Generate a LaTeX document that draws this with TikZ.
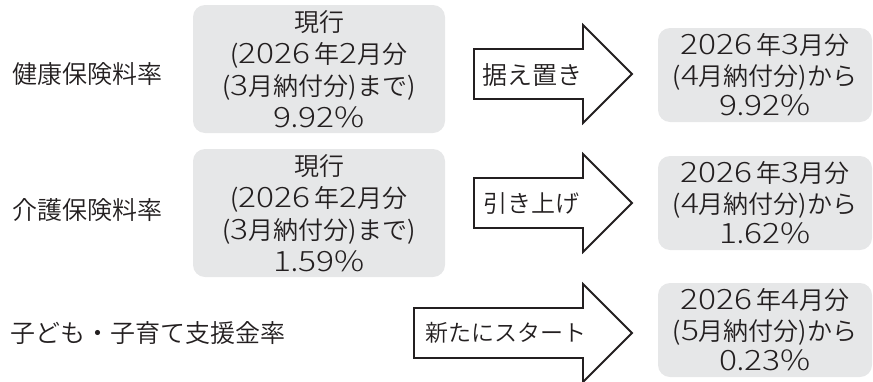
\documentclass[tikz,border=0pt]{standalone}
\usepackage{fontspec}
\setmainfont{Noto Sans CJK JP}[UprightFont=* DemiLight]
\newfontfamily\dgfont{Noto Sans CJK JP}[UprightFont=* Light, FakeStretch=1.2]
\newcommand\dgt[1]{{\dgfont\fontsize{28}{28}\selectfont #1}}
\definecolor{boxgray}{HTML}{E6E7E8}
\definecolor{ink}{HTML}{231F20}
\begin{document}
\begin{tikzpicture}[x=1pt,y=-1pt,
  every node/.style={text=ink},
  graybox/.style={fill=boxgray, rounded corners=12pt, align=center, inner sep=0pt,
    font=\fontsize{25}{32}\selectfont},
  leftbox/.style={graybox, minimum width=252pt, minimum height=128pt},
  rightbox/.style={graybox, minimum width=214pt, minimum height=94pt,
    font=\fontsize{25}{30.5}\selectfont},
  rowlabel/.style={anchor=west, inner sep=0pt, font=\fontsize{25}{25}\selectfont},
  arrowlabel/.style={anchor=west, inner sep=0pt, font=\fontsize{23}{23}\selectfont},
  bigarrow/.style={draw=ink, line width=1.8pt, fill=white, line join=miter}]
\useasboundingbox (0,0) rectangle (873,381);

% row labels
\node[rowlabel] (l1) at (12,74) {健康保険料率};
\node[rowlabel] (l2) at (12,210) {介護保険料率};
\node[rowlabel] (l3) at (10,333) {子ども・子育て支援金率};

% current-rate boxes
\node[leftbox] (c1) at (319,69) {現行\\(\dgt{2026}\,年\dgt{2}月分\\(\dgt{3}月納付分)まで)\\\dgt{9}.\dgt{92\%}};
\node[leftbox] (c2) at (319,213) {現行\\(\dgt{2026}\,年\dgt{2}月分\\(\dgt{3}月納付分)まで)\\\dgt{1}.\dgt{59\%}};

% arrows
\draw[bigarrow] (474,49) -- (583,49) -- (583,25) -- (632,74) -- (583,123) -- (583,99) -- (474,99) -- cycle;
\draw[bigarrow] (474,178) -- (583,178) -- (583,154) -- (632,203) -- (583,252) -- (583,228) -- (474,228) -- cycle;
\draw[bigarrow] (414,308) -- (583,308) -- (583,284) -- (632,333) -- (583,382) -- (583,358) -- (414,358) -- cycle;
\node[arrowlabel, font=\fontsize{25}{25}\selectfont] (a1) at (482,75) {据え置き};
\node[arrowlabel, font=\fontsize{24}{24}\selectfont] (a2) at (483,203) {引き上げ};
\node[arrowlabel] (a3) at (425,333) {新たにスタート};

% new-rate boxes
\node[rightbox] (n1) at (765,75) {\dgt{2026}\,年\dgt{3}月分\\(\dgt{4}月納付分)から\\\dgt{9}.\dgt{92\%}};
\node[rightbox] (n2) at (765,203) {\dgt{2026}\,年\dgt{3}月分\\(\dgt{4}月納付分)から\\\dgt{1}.\dgt{62\%}};
\node[rightbox] (n3) at (765,330) {\dgt{2026}\,年\dgt{4}月分\\(\dgt{5}月納付分)から\\\dgt{0}.\dgt{23\%}};
\end{tikzpicture}
\end{document}
